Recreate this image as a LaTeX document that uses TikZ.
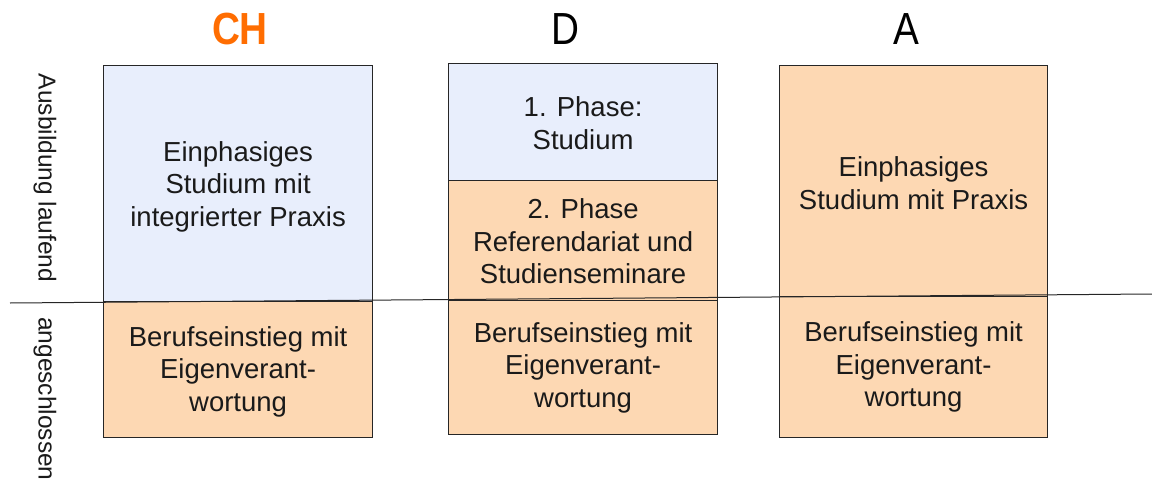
\documentclass[tikz,border=0pt]{standalone}
\usepackage{fontspec}
\setmainfont{Liberation Sans}
\newfontfamily\titlefont[FakeStretch=0.86]{Liberation Sans}
\definecolor{blueF}{HTML}{E8EEFC}
\definecolor{orangeF}{HTML}{FDD8B3}
\definecolor{chOrange}{HTML}{FF6D01}
\definecolor{txt}{HTML}{1A1A1A}
\begin{document}
\begin{tikzpicture}[x=1pt,y=-1pt,
  box/.style={draw=black!85, line width=1.2pt, anchor=north west, inner sep=0pt},
  bluebox/.style={box, fill=blueF},
  orbox/.style={box, fill=orangeF},
  btext/.style={align=center, text=txt, inner sep=0pt, font=\fontsize{27.5}{32.5}\selectfont},
  title/.style={font=\titlefont\fontsize{45}{45}\selectfont},
  side/.style={rotate=-90, font=\fontsize{24.5}{24.5}\selectfont, text=txt, inner sep=0pt}]
\useasboundingbox (0,0) rectangle (1152,479);
% CH
\node[title, text=chOrange, font=\titlefont\bfseries\fontsize{45}{45}\selectfont] (tCH) at (240,29) {CH};
\node[bluebox, minimum width=269pt, minimum height=236pt] (ch1) at (103,65) {};
\node[orbox, minimum width=269pt, minimum height=136pt] (ch2) at (103,301) {};
\node[btext] (ch1t) at ([yshift=-3pt]ch1.center) {Einphasiges\\Studium mit\\integrierter Praxis};
\node[btext] (ch2t) at ([yshift=-2pt]ch2.center) {Berufseinstieg mit\\Eigenverant-\\wortung};
% D
\node[title] (tD) at (565,29) {D};
\node[bluebox, minimum width=269pt, minimum height=117pt] (d1) at (448,63) {};
\node[orbox, minimum width=269pt, minimum height=120pt] (d2) at (448,180) {};
\node[orbox, minimum width=269pt, minimum height=134pt] (d3) at (448,300) {};
\node[btext] (d1t) at ([yshift=-1pt]d1.center) {1. Phase:\\Studium};
\node[btext] (d2t) at ([yshift=-1pt]d2.center) {2. Phase\\Referendariat und\\Studienseminare};
\node[btext] (d3t) at ([yshift=0pt]d3.center) {Berufseinstieg mit\\Eigenverant-\\wortung};
% A
\node[title] (tA) at (906,29) {A};
\node[orbox, minimum width=268pt, minimum height=231pt] (a1) at (779,65) {};
\node[orbox, minimum width=268pt, minimum height=141pt] (a2) at (779,296) {};
\node[btext] (a1t) at ([yshift=-2pt]a1.center) {Einphasiges\\Studium mit Praxis};
\node[btext] (a2t) at ([yshift=0pt]a2.center) {Berufseinstieg mit\\Eigenverant-\\wortung};
% separator line
\coordinate (L1) at (10,303);
\coordinate (L2) at (1152,294);
\draw[line width=1pt, black!85] (L1) -- (L2);
% side labels
\node[side] (s1) at (45,178) {Ausbildung laufend};
\node[side, anchor=west] (s2) at (45,317) {angeschlossen};
\end{tikzpicture}
\end{document}
